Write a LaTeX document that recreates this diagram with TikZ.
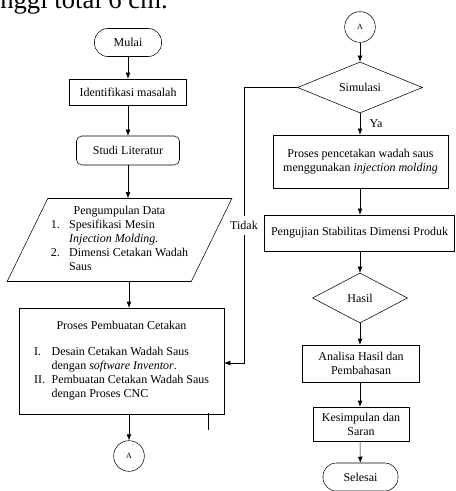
\documentclass[tikz,border=0pt]{standalone}
\usepackage{fontspec}
\setmainfont{Liberation Serif}
\usetikzlibrary{positioning,arrows.meta,shapes.geometric,calc}

\begin{document}
\begin{tikzpicture}[x=0.75pt,y=-0.75pt,
  every node/.style={font=\fontsize{9}{10.5}\selectfont,align=center,inner sep=0pt},
  terminal/.style={draw,rounded corners=10pt,minimum height=21pt},
  proses/.style={draw},
  keputusan/.style={draw,diamond},
  penghubung/.style={draw,circle,minimum size=23pt,font=\fontsize{6}{7}\selectfont},
  dataio/.style={draw,trapezium,trapezium left angle=61,trapezium right angle=119,trapezium stretches=true},
  panah/.style={-{Latex[length=4.5pt,width=3.6pt]}}]
  \useasboundingbox (0,0) rectangle (455,491);
  \begin{scope}
  \clip (0,0) rectangle (455,491);
  \node[anchor=base west,font=\fontsize{20}{24}\selectfont] (potongan) at (0,9) {nggi total 6 cm.};

  % kolom kiri
  \node[terminal,minimum width=50.25pt] (mulai) at (128,42.5) {Mulai};
  \node[proses,minimum width=87.75pt,minimum height=19.5pt] (identifikasi) at (128,92) {Identifikasi masalah};
  \node[proses,rounded corners=4pt,minimum width=77.25pt,minimum height=21.75pt] (studi) at (128,150.5) {Studi Literatur};
  \node[dataio,minimum width=168.75pt,minimum height=62.25pt] (data) at (119.5,240) {%
    \begin{tabular}{@{}l@{\hspace{7pt}}l@{}}
      \multicolumn{2}{c}{Pengumpulan Data}\\
      1. & Spesifikasi Mesin\\
         & \textit{Injection Molding.}\\
      2. & Dimensi Cetakan Wadah\\
         & Saus
    \end{tabular}};
  \node[proses,minimum width=153.75pt,minimum height=79.5pt] (cetak) at (121.5,361) {%
    \begin{tabular}{@{}l@{\hspace{5pt}}l@{}}
      \multicolumn{2}{c}{Proses Pembuatan Cetakan}\\[9pt]
      I. & Desain Cetakan Wadah Saus\\
         & dengan \textit{software Inventor}.\\
      II. & Pembuatan Cetakan Wadah Saus\\
          & dengan Proses CNC
    \end{tabular}};
  \node[penghubung] (keA) at (129,456) {A};

  % kolom kanan
  \node[penghubung] (dariA) at (360,27) {A};
  \node[keputusan,minimum width=93.75pt,minimum height=38.25pt] (simulasi) at (360,87.5) {Simulasi};
  \node[proses,minimum width=131.25pt,minimum height=39.75pt] (cetakan) at (360.5,161.5) {Proses pencetakan wadah saus\\menggunakan \textit{injection molding}};
  \node[proses,minimum width=142.5pt,minimum height=27pt] (uji) at (359.5,233) {Pengujian Stabilitas Dimensi Produk};
  \node[keputusan,minimum width=71.25pt,minimum height=37.5pt] (hasil) at (360,298) {Hasil};
  \node[proses,minimum width=87.75pt,minimum height=27.75pt] (analisa) at (361,363.5) {Analisa Hasil dan\\Pembahasan};
  \node[proses,minimum width=72pt,minimum height=25.5pt] (simpul) at (361,424) {Kesimpulan dan\\Saran};
  \node[terminal,minimum width=56.25pt] (selesai) at (360.5,477) {Selesai};

  \draw[panah] (mulai) -- (identifikasi);
  \draw[panah] (identifikasi) -- (studi);
  \draw[panah] (studi) -- (studi |- data.north);
  \draw[panah] (keA |- data.south) -- (keA |- cetak.north);
  \draw[panah] (keA |- cetak.south) -- (keA);
  \draw (cetak.south east) ++(-16,-1) -- ++(0,17);

  \draw[panah] (dariA) -- (simulasi);
  \draw[panah] (simulasi.south) -- node[midway,right=7pt]{Ya} (simulasi.south |- cetakan.north);
  \draw[panah] (simulasi.south |- cetakan.south) -- (simulasi.south |- uji.north);
  \draw[panah] (simulasi.south |- uji.south) -- (hasil);
  \draw[panah] (hasil) -- (simulasi.south |- analisa.north);
  \draw[panah] (simulasi.south |- analisa.south) -- (simulasi.south |- simpul.north);
  \draw[panah] (simulasi.south |- simpul.south) -- (selesai);

  \coordinate (belok) at (244,87.5);
  \draw[panah] (simulasi.west) -- (belok) |- node[pos=0.25,fill=white,inner ysep=4pt]{Tidak} ($(cetak.east)+(0,2)$);
  \end{scope}
\end{tikzpicture}
\end{document}
